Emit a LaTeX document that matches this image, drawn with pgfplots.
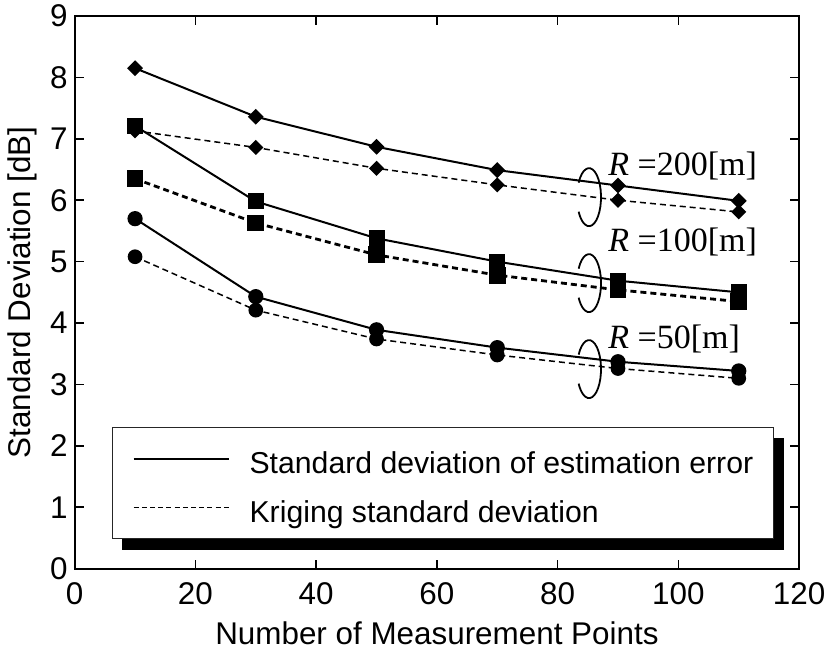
\documentclass[border=0pt]{standalone}
\usepackage{pgfplots}
\pgfplotsset{compat=1.18}
\usepackage{fontspec}
\setmainfont{Liberation Sans}
\newfontfamily\timesfont{Liberation Serif}

\pgfdeclarelayer{background}
\pgfsetlayers{background,main}

\newcommand{\mainsize}{\fontsize{15.7bp}{18bp}\selectfont}
\newcommand{\legsize}{\fontsize{15.1bp}{18bp}\selectfont}

% Standard deviation vs. number of measurement points, three cell radii
\pgfplotstableread{
n    err200 kr200 err100 kr100 err50 kr50
10   8.15   7.13  7.21   6.35  5.70  5.08
30   7.36   6.86  5.98   5.63  4.43  4.21
50   6.87   6.52  5.38   5.11  3.89  3.74
70   6.49   6.25  5.00   4.78  3.60  3.48
90   6.24   6.00  4.69   4.54  3.37  3.26
110  5.99   5.81  4.50   4.35  3.22  3.10
}\stddata

\tikzset{bracket/.style={black, line width=0.9bp},
  rlabel/.style={anchor=base west, inner sep=0pt,
    font=\timesfont\fontsize{17bp}{20bp}\selectfont}}

\begin{document}
\begin{tikzpicture}
\begin{axis}[
  scale only axis,
  width=362.2bp, height=276.35bp,
  at={(0,0)}, anchor=south west,
  xmin=0, xmax=120, ymin=0, ymax=9,
  xtick={0,20,...,120}, ytick={0,1,...,9},
  tick align=inside,
  major tick length=4.5bp,
  axis line style={line width=1bp},
  every tick/.style={black, line width=0.8bp},
  tick label style={font=\mainsize},
  xticklabel style={yshift=-3.2bp},
  /pgf/number format/assume math mode=true,
  label style={font=\mainsize},
  xlabel={Number of Measurement Points},
  ylabel={Standard Deviation [dB]},
  xlabel style={at={(axis description cs:0.5,-0.1163)}, anchor=center},
  ylabel style={at={(axis description cs:-0.0727,0.5)}, anchor=center},
  legend cell align=left,
  legend image code/.code={\draw[#1] (0bp,0bp) -- (47.5bp,0bp);},
  legend style={
    name=keybox,
    at={(axis cs:6.18,0.48)}, anchor=south west,
    draw=black!85, line width=0.6bp, fill=white,
    inner xsep=10bp, inner ysep=6bp, row sep=5.5bp,
    font=\legsize,
    nodes={inner sep=0pt, text height=17bp, text depth=2bp},
    /tikz/every odd column/.append style={column sep=10bp},
  },
]
% solid: standard deviation of estimation error; dashed: kriging standard deviation
\addplot[black, line width=1bp, mark=square*, mark size=2.3bp,
  mark options={rotate=45, solid}, forget plot] table[x=n, y=err200] {\stddata};
\addplot[black, line width=0.75bp, dash pattern=on 3bp off 2bp, mark=square*, mark size=2.3bp,
  mark options={rotate=45, solid}, forget plot] table[x=n, y=kr200] {\stddata};
\addplot[black, line width=1bp, mark=square*, mark size=3.5bp,
  mark options={solid}, forget plot] table[x=n, y=err100] {\stddata};
\addplot[black, line width=1.4bp, dash pattern=on 3bp off 2bp, mark=square*, mark size=3.5bp,
  mark options={solid}, forget plot] table[x=n, y=kr100] {\stddata};
\addplot[black, line width=1bp, mark=*, mark size=3.3bp,
  mark options={solid}, forget plot] table[x=n, y=err50] {\stddata};
\addplot[black, line width=0.75bp, dash pattern=on 3bp off 2bp, mark=*, mark size=3.3bp,
  mark options={solid}, forget plot] table[x=n, y=kr50] {\stddata};

\addlegendimage{black, line width=1bp}
\addlegendentry{Standard deviation of estimation error}
\addlegendimage{black, line width=0.75bp, dash pattern=on 2.5bp off 1.6bp}
\addlegendentry{Kriging standard deviation}

% group brackets and radius labels
\draw[bracket] ([shift={(150:6bp and 14.5bp)}]axis cs:85.2,6.05)
  arc[start angle=150, end angle=-150, x radius=6bp, y radius=14.5bp];
\draw[bracket] ([shift={(150:6bp and 14.5bp)}]axis cs:85.2,4.65)
  arc[start angle=150, end angle=-150, x radius=6bp, y radius=14.5bp];
\draw[bracket] ([shift={(150:6bp and 14.5bp)}]axis cs:85.2,3.25)
  arc[start angle=150, end angle=-150, x radius=6bp, y radius=14.5bp];
\node[rlabel] at (axis cs:88.35,6.41) {\textit{R} =200[m]};
\node[rlabel] at (axis cs:88.35,5.17) {\textit{R} =100[m]};
\node[rlabel] at (axis cs:88.35,3.58) {\textit{R} =50[m]};
\end{axis}
% hard drop shadow behind the key
\begin{pgfonlayer}{background}
  \fill[black] ([shift={(5bp,-5.5bp)}]keybox.south west)
    rectangle ([shift={(5bp,-5.5bp)}]keybox.north east);
\end{pgfonlayer}
\pgfresetboundingbox
\path[use as bounding box] (-37.35bp,-43.15bp) rectangle (377.65bp,284.35bp);
\end{tikzpicture}
\end{document}
